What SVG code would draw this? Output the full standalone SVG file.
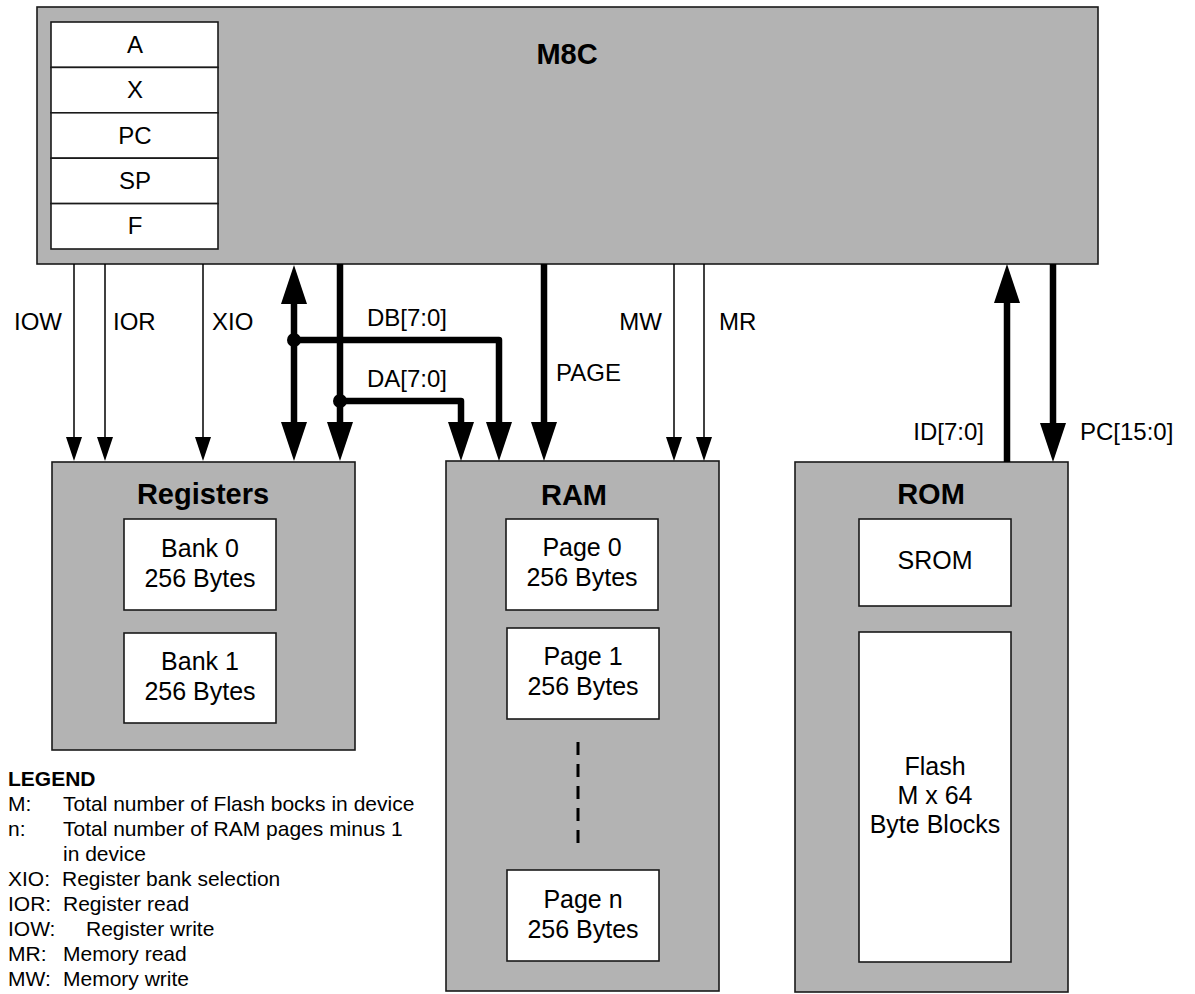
<svg xmlns="http://www.w3.org/2000/svg" width="1195" height="994" viewBox="0 0 1195 994">
<style>
text{font-family:"Liberation Sans",Arial,sans-serif;fill:#000}
.blk{fill:#b3b3b3;stroke:#1a1a1a;stroke-width:1.6}
.inner{fill:#fff;stroke:#1a1a1a;stroke-width:1.6}
.t24{font-size:24px}
.t25{font-size:25px}
.ttl{font-size:29px;font-weight:bold}
.c{text-anchor:middle}
.lg{font-size:21px}
.thin{stroke:#000;stroke-width:1.5;fill:none}
.thick{stroke:#000;stroke-width:6.5;fill:none;stroke-linejoin:round}
.dash{stroke:#000;stroke-width:3;stroke-dasharray:13 9;fill:none}
</style>
<defs>
<marker id="ah" markerUnits="userSpaceOnUse" markerWidth="24" markerHeight="16" refX="0" refY="8" orient="auto-start-reverse" overflow="visible">
<path d="M0,0 L24,8 L0,16 Z" fill="#000"/>
</marker>
<marker id="AH" markerUnits="userSpaceOnUse" markerWidth="39" markerHeight="26" refX="0" refY="13" orient="auto-start-reverse" overflow="visible">
<path d="M0,0 L39,13 L0,26 Z" fill="#000"/>
</marker>
</defs>

<g id="m8c">
<rect class="blk" x="37" y="7" width="1061" height="257"/>
<text class="ttl c" x="567" y="64">M8C</text>
<g id="cpu-regs">
<rect class="inner" x="51" y="22" width="167" height="45.4"/>
<rect class="inner" x="51" y="67.4" width="167" height="45.4"/>
<rect class="inner" x="51" y="112.8" width="167" height="45.4"/>
<rect class="inner" x="51" y="158.2" width="167" height="45.4"/>
<rect class="inner" x="51" y="203.6" width="167" height="45.4"/>
<text class="t24 c" x="135" y="53">A</text>
<text class="t24 c" x="135" y="98">X</text>
<text class="t24 c" x="135" y="144">PC</text>
<text class="t24 c" x="135" y="189">SP</text>
<text class="t24 c" x="135" y="234">F</text>
</g>
</g>

<g id="registers">
<rect class="blk" x="52" y="462" width="303" height="288"/>
<text class="ttl c" x="203" y="504">Registers</text>
<g id="bank0">
<rect class="inner" x="124" y="519" width="152" height="91"/>
<text class="t25 c" x="200" y="557">Bank 0</text>
<text class="t25 c" x="200" y="587">256 Bytes</text>
</g>
<g id="bank1">
<rect class="inner" x="124" y="633" width="152" height="90"/>
<text class="t25 c" x="200" y="670">Bank 1</text>
<text class="t25 c" x="200" y="700">256 Bytes</text>
</g>
</g>

<g id="ram">
<rect class="blk" x="446" y="461" width="273" height="530"/>
<text class="ttl c" x="574" y="505">RAM</text>
<g id="page0">
<rect class="inner" x="506" y="519" width="152" height="91"/>
<text class="t25 c" x="582" y="556">Page 0</text>
<text class="t25 c" x="582" y="586">256 Bytes</text>
</g>
<g id="page1">
<rect class="inner" x="507" y="628" width="152" height="91"/>
<text class="t25 c" x="583" y="665">Page 1</text>
<text class="t25 c" x="583" y="695">256 Bytes</text>
</g>
<line class="dash" x1="578" y1="742" x2="578" y2="844"/>
<g id="pagen">
<rect class="inner" x="507" y="870" width="152" height="91"/>
<text class="t25 c" x="583" y="908">Page n</text>
<text class="t25 c" x="583" y="938">256 Bytes</text>
</g>
</g>

<g id="rom">
<rect class="blk" x="795" y="462" width="273" height="530"/>
<text class="ttl c" x="931" y="504">ROM</text>
<g id="srom">
<rect class="inner" x="859" y="519" width="152" height="87"/>
<text class="t25 c" x="935" y="569">SROM</text>
</g>
<g id="flash">
<rect class="inner" x="859" y="632" width="152" height="330"/>
<text class="t25 c" x="935" y="775">Flash</text>
<text class="t25 c" x="935" y="804">M x 64</text>
<text class="t25 c" x="935" y="833">Byte Blocks</text>
</g>
</g>

<g id="connectors">
<path class="thin" d="M74,264 V437" marker-end="url(#ah)"/>
<path class="thin" d="M105,264 V437" marker-end="url(#ah)"/>
<path class="thin" d="M203,264 V437" marker-end="url(#ah)"/>
<path class="thin" d="M674,264 V437" marker-end="url(#ah)"/>
<path class="thin" d="M704,264 V437" marker-end="url(#ah)"/>
<path class="thick" d="M294,304 V422" marker-start="url(#AH)" marker-end="url(#AH)"/>
<path class="thick" d="M340,264 V422" marker-end="url(#AH)"/>
<path class="thick" d="M294,340 H499 V422" marker-end="url(#AH)"/>
<path class="thick" d="M340,401 H461 V422" marker-end="url(#AH)"/>
<path class="thick" d="M544,264 V422" marker-end="url(#AH)"/>
<path class="thick" d="M1007,462 V303" marker-end="url(#AH)"/>
<path class="thick" d="M1053,264 V423" marker-end="url(#AH)"/>
<circle cx="294" cy="340" r="7" fill="#000"/>
<circle cx="340" cy="401" r="7" fill="#000"/>
</g>

<g id="connector-labels" class="t24">
<text x="62" y="330" text-anchor="end">IOW</text>
<text x="113" y="330">IOR</text>
<text x="212" y="330">XIO</text>
<text x="367" y="326">DB[7:0]</text>
<text x="367" y="387">DA[7:0]</text>
<text x="556" y="381">PAGE</text>
<text x="662" y="330" text-anchor="end">MW</text>
<text x="719" y="330">MR</text>
<text x="984" y="440" text-anchor="end">ID[7:0]</text>
<text x="1080" y="440">PC[15:0]</text>
</g>

<g id="legend" class="lg">
<text x="8" y="786" font-weight="bold">LEGEND</text>
<text x="8" y="811">M:</text><text x="63" y="811">Total number of Flash bocks in device</text>
<text x="8" y="836">n:</text><text x="63" y="836">Total number of RAM pages minus 1</text>
<text x="63" y="861">in device</text>
<text x="8" y="886">XIO:</text><text x="62" y="886">Register bank selection</text>
<text x="8" y="911">IOR:</text><text x="63" y="911">Register read</text>
<text x="8" y="936">IOW:</text><text x="86" y="936">Register write</text>
<text x="8" y="961">MR:</text><text x="63" y="961">Memory read</text>
<text x="8" y="986">MW:</text><text x="63" y="986">Memory write</text>
</g>
</svg>
